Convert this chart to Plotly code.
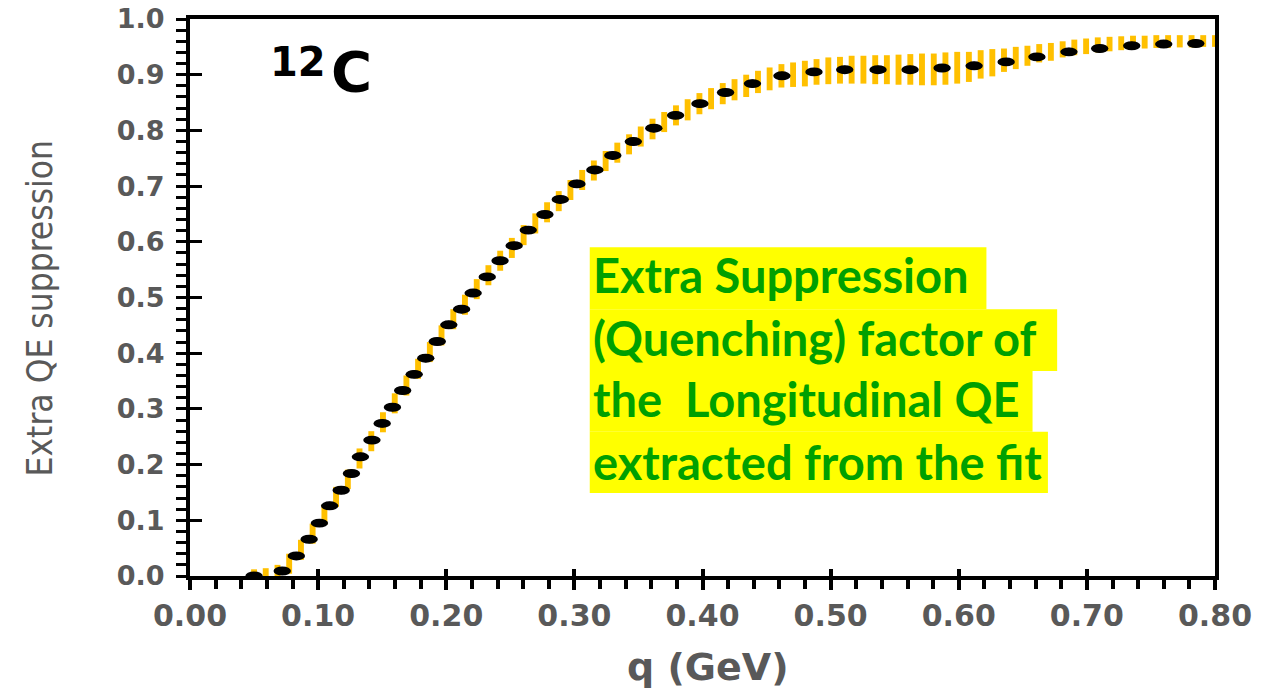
import plotly.graph_objects as go

# Extracted suppression factor (black points)
q_points = [0.050, 0.072, 0.083, 0.093, 0.101, 0.109, 0.118, 0.126, 0.133, 0.142,
            0.150, 0.158, 0.166, 0.175, 0.184, 0.193, 0.202, 0.212, 0.221, 0.232,
            0.242, 0.253, 0.264, 0.277, 0.289, 0.302, 0.316, 0.330, 0.346, 0.362,
            0.379, 0.398, 0.418, 0.439, 0.462, 0.487, 0.511, 0.537, 0.562, 0.587,
            0.612, 0.637, 0.661, 0.686, 0.710, 0.735, 0.760, 0.785]
suppression = [0.000, 0.009, 0.036, 0.066, 0.095, 0.126, 0.154, 0.184, 0.214, 0.244,
               0.274, 0.303, 0.333, 0.362, 0.391, 0.421, 0.451, 0.479, 0.508, 0.537,
               0.566, 0.593, 0.621, 0.649, 0.676, 0.704, 0.729, 0.755, 0.780, 0.804,
               0.827, 0.848, 0.868, 0.884, 0.898, 0.905, 0.909, 0.909, 0.909, 0.912,
               0.916, 0.923, 0.932, 0.941, 0.947, 0.952, 0.955, 0.956]

# Uncertainty band (yellow bars): sample positions, lower and upper edges
q_band = [0.0500, 0.0591, 0.0683, 0.0774, 0.0866, 0.0957, 0.1049, 0.1140, 0.1232, 0.1323,
          0.1415, 0.1506, 0.1598, 0.1689, 0.1780, 0.1872, 0.1963, 0.2055, 0.2146, 0.2238,
          0.2329, 0.2421, 0.2512, 0.2604, 0.2695, 0.2787, 0.2878, 0.2969, 0.3061, 0.3152,
          0.3244, 0.3335, 0.3427, 0.3518, 0.3610, 0.3701, 0.3793, 0.3884, 0.3976, 0.4067,
          0.4158, 0.4250, 0.4341, 0.4433, 0.4524, 0.4616, 0.4707, 0.4799, 0.4890, 0.4982,
          0.5073, 0.5164, 0.5256, 0.5348, 0.5439, 0.5530, 0.5622, 0.5713, 0.5805, 0.5896,
          0.5988, 0.6079, 0.6171, 0.6262, 0.6353, 0.6445, 0.6536, 0.6628, 0.6719, 0.6811,
          0.6902, 0.6994, 0.7085, 0.7177, 0.7268, 0.7360, 0.7451, 0.7542, 0.7634, 0.7725,
          0.7817, 0.7908, 0.8000]
band_lo = [0.000, 0.000, 0.000, 0.004, 0.029, 0.058, 0.092, 0.124, 0.156, 0.193,
           0.224, 0.258, 0.292, 0.324, 0.354, 0.384, 0.414, 0.443, 0.469, 0.497,
           0.522, 0.548, 0.571, 0.594, 0.615, 0.635, 0.655, 0.675, 0.693, 0.710,
           0.727, 0.742, 0.757, 0.771, 0.784, 0.797, 0.809, 0.818, 0.829, 0.838,
           0.847, 0.854, 0.860, 0.867, 0.872, 0.877, 0.878, 0.879, 0.882, 0.883,
           0.884, 0.884, 0.884, 0.883, 0.883, 0.882, 0.882, 0.881, 0.881, 0.882,
           0.884, 0.887, 0.893, 0.897, 0.905, 0.910, 0.916, 0.922, 0.925, 0.931,
           0.935, 0.937, 0.940, 0.942, 0.944, 0.946, 0.947, 0.948, 0.948, 0.949,
           0.949, 0.950, 0.950]
band_hi = [0.012, 0.014, 0.020, 0.040, 0.065, 0.094, 0.128, 0.160, 0.191, 0.229,
           0.260, 0.294, 0.328, 0.360, 0.390, 0.420, 0.450, 0.479, 0.505, 0.533,
           0.558, 0.584, 0.607, 0.630, 0.651, 0.671, 0.691, 0.711, 0.729, 0.746,
           0.763, 0.778, 0.793, 0.807, 0.821, 0.833, 0.845, 0.856, 0.867, 0.876,
           0.885, 0.892, 0.900, 0.907, 0.913, 0.919, 0.922, 0.925, 0.928, 0.931,
           0.932, 0.934, 0.934, 0.935, 0.935, 0.936, 0.937, 0.938, 0.938, 0.940,
           0.941, 0.941, 0.944, 0.946, 0.947, 0.950, 0.952, 0.955, 0.957, 0.960,
           0.963, 0.965, 0.967, 0.968, 0.969, 0.970, 0.970, 0.971, 0.971, 0.971,
           0.971, 0.971, 0.971]

x_tick_vals = [0.0, 0.1, 0.2, 0.3, 0.4, 0.5, 0.6, 0.7, 0.8]
x_tick_text = ["0.00", "0.10", "0.20", "0.30", "0.40", "0.50", "0.60", "0.70", "0.80"]
y_tick_vals = [0.0, 0.1, 0.2, 0.3, 0.4, 0.5, 0.6, 0.7, 0.8, 0.9, 1.0]
y_tick_text = ["0.0", "0.1", "0.2", "0.3", "0.4", "0.5", "0.6", "0.7", "0.8", "0.9", "1.0"]

note_lines = ["Extra Suppression",
              "(Quenching) factor of",
              "the\u00a0 Longitudinal QE",
              "extracted from the fit"]
# right end of the highlight behind each note line (paper x)
note_right = [0.777, 0.846, 0.822, 0.837]

GOLD = "#FFC000"
GREY = "#595959"
TICK_FONT = "DejaVu Sans, Verdana, sans-serif"

fig = go.Figure()

fig.add_trace(go.Bar(
    x=q_band,
    y=[h - l for h, l in zip(band_hi, band_lo)],
    base=band_lo,
    width=0.0046,
    marker=dict(color=GOLD, line=dict(width=0)),
    showlegend=False,
    hoverinfo="skip",
))

fig.add_trace(go.Scatter(
    x=q_points, y=suppression, mode="markers",
    marker=dict(symbol="circle", size=8, color="black"),
    showlegend=False,
))

# empty trace on the overlay axes that carry the inner halves of the major ticks
fig.add_trace(go.Scatter(x=[None], y=[None], xaxis="x2", yaxis="y2",
                         mode="markers", showlegend=False, hoverinfo="skip"))

# elliptical point markers
ell_dx = 0.0068
ell_dy = 0.0080
for qv, sv in zip(q_points, suppression):
    fig.add_shape(type="circle", xref="x", yref="y",
                  x0=qv - ell_dx, x1=qv + ell_dx, y0=sv - ell_dy, y1=sv + ell_dy,
                  fillcolor="black", line=dict(width=0), layer="above")

# yellow highlight behind each note line
row_edges = [0.590, 0.479, 0.368, 0.259, 0.149]
for i, right in enumerate(note_right):
    fig.add_shape(type="rect", xref="paper", yref="paper",
                  x0=0.390, x1=right, y0=row_edges[i + 1], y1=row_edges[i],
                  fillcolor="#FFFF00", line=dict(width=0), layer="above")

note_y = [0.540, 0.428, 0.317, 0.205]
for text, yv in zip(note_lines, note_y):
    fig.add_annotation(text=f"<b>{text}</b>", xref="paper", yref="paper",
                       x=0.391, y=yv, xanchor="left", yanchor="middle",
                       showarrow=False,
                       font=dict(family="Lato, Open Sans, sans-serif", size=47,
                                 color="#00A000"))

# nucleus label: mass number as a raised prefix, then the element symbol
fig.add_annotation(text="<b>12</b>", xref="paper", yref="paper",
                   x=0.1054, y=0.922, xanchor="center", yanchor="middle",
                   showarrow=False,
                   font=dict(family=TICK_FONT, size=40, color="black"))
fig.add_annotation(text="<b>C</b>", xref="paper", yref="paper",
                   x=0.158, y=0.906, xanchor="center", yanchor="middle",
                   showarrow=False,
                   font=dict(family=TICK_FONT, size=56, color="black"))

fig.add_annotation(text="Extra QE suppression", xref="paper", yref="paper",
                   x=-0.146, y=0.481, textangle=-90,
                   xanchor="center", yanchor="middle", showarrow=False,
                   font=dict(family="DejaVu Sans Condensed, Liberation Sans Narrow, sans-serif",
                             size=35, color=GREY))

fig.add_annotation(text="<b>q (GeV)</b>", xref="paper", yref="paper",
                   x=0.505, y=-0.164, xanchor="center", yanchor="middle",
                   showarrow=False,
                   font=dict(family=TICK_FONT, size=38, color=GREY))

fig.update_layout(
    width=1273, height=689,
    margin=dict(l=190, r=58, t=19, b=113, autoexpand=False),
    paper_bgcolor="white", plot_bgcolor="white",
    showlegend=False,
    xaxis=dict(
        range=[0, 0.8], tickvals=x_tick_vals, ticktext=x_tick_text,
        ticks="outside", ticklen=10, tickwidth=4, tickcolor="black",
        minor=dict(dtick=0.02, tick0=0, ticks="outside", ticklen=9,
                   tickwidth=4, tickcolor="black", showgrid=False),
        showline=True, linewidth=4, linecolor="black", mirror=True,
        showgrid=False, zeroline=False, ticklabelstandoff=0, automargin=False,
        tickfont=dict(family=TICK_FONT, size=30, color=GREY, weight="bold"),
    ),
    yaxis=dict(
        range=[0, 1.0], tickvals=y_tick_vals, ticktext=y_tick_text,
        ticks="outside", ticklen=10, tickwidth=3, tickcolor="black",
        minor=dict(dtick=0.02, tick0=0, ticks="outside", ticklen=10,
                   tickwidth=3, tickcolor="black", showgrid=False),
        showline=True, linewidth=4, linecolor="black", mirror=True,
        showgrid=False, zeroline=False, ticklabelstandoff=6, automargin=False,
        tickfont=dict(family=TICK_FONT, size=27, color=GREY, weight="bold"),
    ),
    xaxis2=dict(
        overlaying="x", anchor="y2", side="bottom", range=[0, 0.8],
        tickvals=x_tick_vals, ticks="inside", ticklen=7, tickwidth=4,
        tickcolor="black", showticklabels=False, showline=False,
        showgrid=False, zeroline=False, automargin=False,
    ),
    yaxis2=dict(
        overlaying="y", anchor="x2", side="left", range=[0, 1.0],
        tickvals=y_tick_vals, ticks="inside", ticklen=12, tickwidth=3,
        tickcolor="black", showticklabels=False, showline=False,
        showgrid=False, zeroline=False, automargin=False,
    ),
)

fig.write_html("out.html")
